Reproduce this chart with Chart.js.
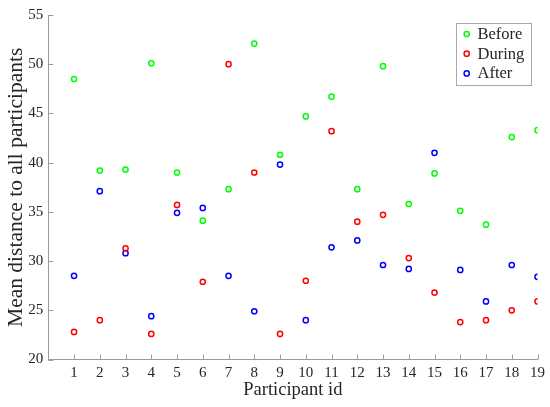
<!DOCTYPE html>
<html>
<head>
<meta charset="utf-8">
<script src="https://cdn.jsdelivr.net/npm/chart.js@4"></script>
<style>
  html, body { margin: 0; padding: 0; background: #fff; }
  #wrap { width: 550px; height: 407px; }
</style>
</head>
<body>
<div id="wrap"><canvas id="c" width="550" height="407"></canvas></div>
<script>
const participants = [1, 2, 3, 4, 5, 6, 7, 8, 9, 10, 11, 12, 13, 14, 15, 16, 17, 18, 19];
const before = [48.5, 39.2, 39.3, 50.1, 39.0, 34.1, 37.3, 52.1, 40.8, 44.7, 46.7, 37.3, 49.8, 35.8, 38.9, 35.1, 33.7, 42.6, 43.3];
const during = [22.8, 24.0, 31.3, 22.6, 35.7, 27.9, 50.0, 39.0, 22.6, 28.0, 43.2, 34.0, 34.7, 30.3, 26.8, 23.8, 24.0, 25.0, 25.9];
const after  = [28.5, 37.1, 30.8, 24.4, 34.9, 35.4, 28.5, 24.9, 39.8, 24.0, 31.4, 32.1, 29.6, 29.2, 41.0, 29.1, 25.9, 29.6, 28.4];
const yTicks = [20, 25, 30, 35, 40, 45, 50, 55];
const seriesNames = ['Before', 'During', 'After'];
const seriesColors = ['#00ff00', '#ff0000', '#0000ff'];
const xTitle = 'Participant id';
const yTitle = 'Mean distance to all participants';

const FONT = '"Liberation Serif", "Times New Roman", serif';
const AXIS_COLOR = '#9a9a9a';
const TEXT_COLOR = '#262626';

function toPoints(vals) {
  return participants.map((p, i) => ({ x: p, y: vals[i] }));
}

const datasets = [before, during, after].map((vals, i) => ({
  label: seriesNames[i],
  data: toPoints(vals),
  borderColor: seriesColors[i],
  backgroundColor: 'rgba(0,0,0,0)',
  pointRadius: 2.6,
  pointBorderWidth: 1.5,
  pointHoverRadius: 2.6,
  showLine: false
}));

const innerTicks = {
  id: 'innerTicks',
  afterDraw(chart) {
    const ctx = chart.ctx;
    const xs = chart.scales.x, ys = chart.scales.y;
    const area = chart.chartArea;
    ctx.save();
    ctx.strokeStyle = AXIS_COLOR;
    ctx.lineWidth = 1;
    ctx.beginPath();
    participants.forEach(p => {
      const px = Math.round(xs.getPixelForValue(p)) + 0.5;
      ctx.moveTo(px, area.bottom);
      ctx.lineTo(px, area.bottom - 5);
    });
    yTicks.forEach(v => {
      const py = Math.round(ys.getPixelForValue(v)) + 0.5;
      ctx.moveTo(area.left, py);
      ctx.lineTo(area.left + 5, py);
    });
    ctx.stroke();
    ctx.restore();
  }
};

const boxLegend = {
  id: 'boxLegend',
  afterDraw(chart) {
    const ctx = chart.ctx;
    const area = chart.chartArea;
    const w = 74.5, h = 62;
    const bx = area.right - 7.5 - w;
    const by = area.top + 8;
    ctx.save();
    ctx.fillStyle = '#ffffff';
    ctx.fillRect(bx, by, w, h);
    ctx.strokeStyle = '#a8a8a8';
    ctx.lineWidth = 1;
    ctx.strokeRect(Math.round(bx) + 0.5, Math.round(by) + 0.5, Math.round(w), Math.round(h));
    ctx.font = '16.5px ' + FONT;
    ctx.textBaseline = 'middle';
    ctx.textAlign = 'left';
    chart.data.datasets.forEach((ds, i) => {
      const cy = by + 11 + i * 19.7;
      ctx.beginPath();
      ctx.arc(bx + 11.2, cy, 2.6, 0, Math.PI * 2);
      ctx.strokeStyle = ds.borderColor;
      ctx.lineWidth = 1.5;
      ctx.stroke();
      ctx.fillStyle = TEXT_COLOR;
      ctx.fillText(ds.label, bx + 22, cy + 0.5);
    });
    ctx.restore();
  }
};

new Chart(document.getElementById('c'), {
  type: 'scatter',
  data: { datasets },
  options: {
    responsive: false,
    animation: false,
    devicePixelRatio: 1,
    layout: { padding: { top: 15, right: 12.5, left: 0, bottom: 0 } },
    plugins: {
      legend: { display: false },
      tooltip: { enabled: false }
    },
    scales: {
      x: {
        type: 'linear',
        min: 0,
        max: 19,
        afterBuildTicks(scale) {
          scale.ticks = participants.map(v => ({ value: v }));
        },
        afterFit(scale) { scale.height = 47.5; },
        ticks: {
          autoSkip: false,
          maxRotation: 0,
          padding: 5,
          color: TEXT_COLOR,
          font: { family: FONT, size: 15 },
          callback: v => String(v)
        },
        grid: { drawOnChartArea: false, drawTicks: false },
        border: { display: true, color: AXIS_COLOR, width: 1 },
        title: {
          display: true,
          text: xTitle,
          color: TEXT_COLOR,
          font: { family: FONT, size: 18.5 },
          padding: { top: 0, bottom: 6 }
        }
      },
      y: {
        min: 20,
        max: 55,
        afterBuildTicks(scale) {
          scale.ticks = yTicks.map(v => ({ value: v }));
        },
        afterFit(scale) { scale.width = 48.3; },
        ticks: {
          padding: 5,
          color: TEXT_COLOR,
          font: { family: FONT, size: 15 }
        },
        grid: { drawOnChartArea: false, drawTicks: false },
        border: { display: true, color: AXIS_COLOR, width: 1 },
        title: {
          display: true,
          text: yTitle,
          color: TEXT_COLOR,
          font: { family: FONT, size: 21.5 },
          padding: { top: 3, bottom: 0 }
        }
      }
    }
  },
  plugins: [innerTicks, boxLegend]
});
</script>
</body>
</html>
